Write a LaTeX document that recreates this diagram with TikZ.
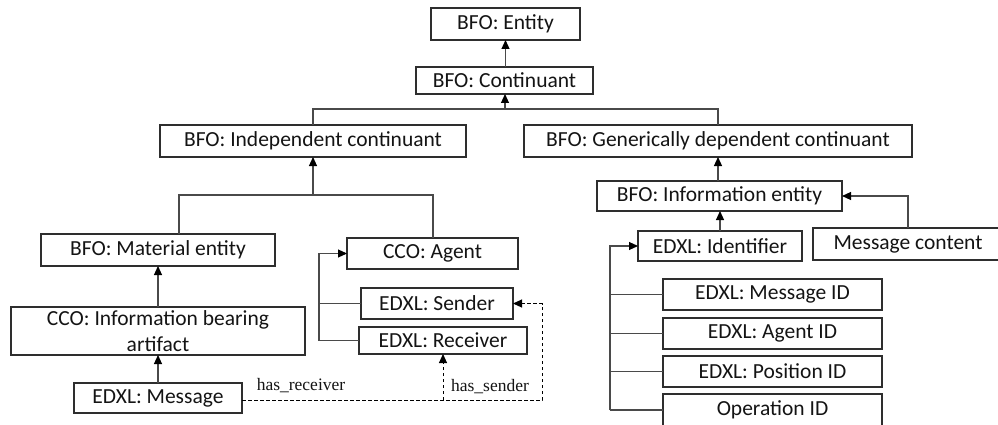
\documentclass[tikz,border=0pt]{standalone}
\usepackage{fontspec}
\setmainfont{Carlito}
\newfontfamily\labelfont{Liberation Serif}
\usetikzlibrary{arrows.meta}
\definecolor{boxline}{HTML}{2E2E2E}
\definecolor{conline}{HTML}{4A4A4A}
\definecolor{txt}{HTML}{141414}
\begin{document}
\begin{tikzpicture}[x=1pt,y=-1pt,
  box/.style={draw=boxline, line width=1.2pt, fill=white, text=txt, inner sep=0pt, outer sep=0pt,
    font=\fontsize{21.5}{25.5}\selectfont, align=center},
  con/.style={draw=conline, line width=1.1pt},
  arr/.style={con, -{Triangle[length=9pt,width=8pt,color=black]}},
  dsh/.style={draw=black, line width=1pt, dash pattern=on 3.5pt off 2.5pt},
  darr/.style={dsh, -{Triangle[length=9pt,width=8pt,color=black]}},
  lbl/.style={text=txt, inner sep=0pt, font=\labelfont\fontsize{17.5}{19}\selectfont}]
\useasboundingbox (0,0) rectangle (998,425);
\clip (0,0) rectangle (998,425);
\fill[white] (0,0) rectangle (998,425);

% top
\node[box, minimum width=149pt, minimum height=32pt] (ent) at (505.5,24) {BFO: Entity};
\node[box, minimum width=177pt, minimum height=27pt] (cont) at (504.5,80.5) {BFO: Continuant};
\node[box, minimum width=306pt, minimum height=32pt] (ind) at (313,141) {BFO: Independent continuant};
\node[box, minimum width=388pt, minimum height=32pt] (gen) at (718,141) {BFO: Generically dependent continuant};

% left branch
\node[box, minimum width=234pt, minimum height=32pt] (mat) at (158,250) {BFO: Material entity};
\node[box, minimum width=294pt, minimum height=48pt] (iba) at (158,331) {CCO: Information bearing\\artifact};
\node[box, minimum width=168pt, minimum height=30pt] (msg) at (158,398) {EDXL: Message};
\node[box, minimum width=171pt, minimum height=31pt] (agent) at (432.5,253.5) {CCO: Agent};
\node[box, minimum width=152pt, minimum height=31pt] (send) at (437,303.5) {EDXL: Sender};
\node[box, minimum width=168pt, minimum height=27pt] (recv) at (443,340.5) {EDXL: Receiver};

% right branch
\node[box, minimum width=245pt, minimum height=30pt] (info) at (719.5,196) {BFO: Information entity};
\node[box, minimum width=164pt, minimum height=30pt] (ident) at (720,246) {EDXL: Identifier};
\node[box, minimum width=190pt, minimum height=32pt] (mcont) at (908,244) {Message content};
\node[box, minimum width=219pt, minimum height=31pt] (mid) at (772.5,294.5) {EDXL: Message ID};
\node[box, minimum width=219pt, minimum height=31pt] (aid) at (772.5,333.5) {EDXL: Agent ID};
\node[box, minimum width=219pt, minimum height=31pt] (pid) at (772.5,371.5) {EDXL: Position ID};
\node[box, minimum width=219pt, minimum height=32pt] (oid) at (772.5,410) {Operation ID};

% junction coordinates
\coordinate (j1) at (505,109);
\coordinate (j2) at (313,195);
\coordinate (m1) at (179,195);
\coordinate (a1) at (433,195);
\coordinate (b1) at (319,0);
\coordinate (r1) at (610,0);
\coordinate (c1) at (908,196);
\coordinate (d1) at (542,400);

% top connectors
\draw[arr] (cont.north -| ent.south) -- (ent.south);
\draw[con] (ind.north) -- (ind.north |- j1) -- (gen.north |- j1) -- (gen.north);
\draw[arr] (j1) -- (j1 |- cont.south);

% left connectors
\draw[con] (m1 |- mat.north) -- (m1) -- (a1) -- (a1 |- agent.north);
\draw[arr] (j2) -- (ind.south);
\draw[arr] (iba.north) -- (mat.south);
\draw[arr] (msg.north) -- (iba.south);
\draw[arr] (b1 |- recv.west) -- (b1 |- agent.west) -- (agent.west);
\draw[con] (b1 |- send.west) -- (send.west);
\draw[con] (b1 |- recv.west) -- (recv.west);

% dashed relations
\draw[darr] (msg.east |- d1) -- (d1) -- (d1 |- send.east) -- (send.east);
\draw[darr] (recv.south |- d1) -- (recv.south);
\node[lbl] (lrecv) at (301,386) {has\_receiver};
\node[lbl] (lsend) at (490,387) {has\_sender};

% right connectors
\draw[arr] (gen.south |- info.north) -- (gen.south);
\draw[arr] (ident.north) -- (ident.north |- info.south);
\draw[arr] (c1 |- mcont.north) -- (c1) -- (c1 -| info.east);
\draw[arr] (r1 |- oid.west) -- (r1 |- ident.west) -- (ident.west);
\draw[con] (r1 |- mid.west) -- (mid.west);
\draw[con] (r1 |- aid.west) -- (aid.west);
\draw[con] (r1 |- pid.west) -- (pid.west);
\draw[con] (r1 |- oid.west) -- (oid.west);
\end{tikzpicture}
\end{document}
